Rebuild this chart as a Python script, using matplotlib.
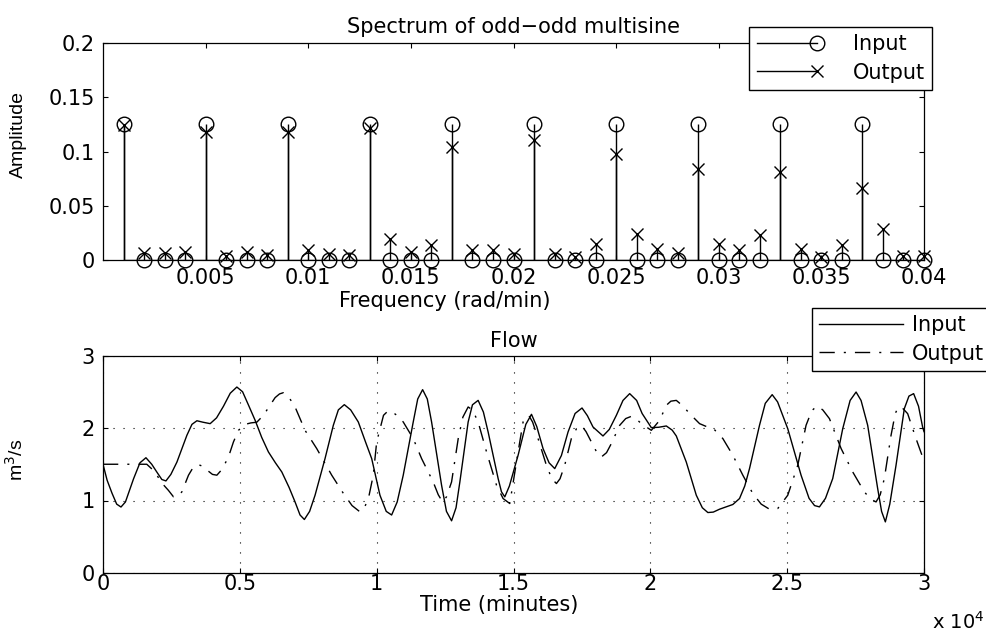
import numpy as np
import matplotlib
matplotlib.use('Agg')
import matplotlib.pyplot as plt
from matplotlib.lines import Line2D
from matplotlib.legend_handler import HandlerLine2D

# ---- spectrum data (rad/min) ----
freq = [0.001, 0.002, 0.003, 0.004, 0.005, 0.006, 0.007, 0.008, 0.009, 0.010,
        0.011, 0.012, 0.013, 0.014, 0.015, 0.016, 0.017, 0.018, 0.019, 0.020,
        0.021, 0.022, 0.023, 0.024, 0.025, 0.026, 0.027, 0.028, 0.029, 0.030,
        0.031, 0.032, 0.033, 0.034, 0.035, 0.036, 0.037, 0.038, 0.039, 0.040]
amp_in = [0.125, 0, 0, 0, 0.125, 0, 0, 0, 0.125, 0,
          0, 0, 0.125, 0, 0, 0, 0.125, 0, 0, 0,
          0.125, 0, 0, 0, 0.125, 0, 0, 0, 0.125, 0,
          0, 0, 0.125, 0, 0, 0, 0.125, 0, 0, 0]
amp_out = [0.124, 0.006, 0.006, 0.0077, 0.118, 0.004, 0.007, 0.005, 0.118, 0.009,
           0.0055, 0.0046, 0.1215, 0.019, 0.007, 0.014, 0.1046, 0.009, 0.009, 0.0055,
           0.111, 0.0055, 0.003, 0.015, 0.098, 0.024, 0.010, 0.006, 0.084, 0.015,
           0.009, 0.023, 0.081, 0.010, 0.003, 0.014, 0.066, 0.029, 0.004, 0.004]
freq_ticks = [0.005, 0.01, 0.015, 0.02, 0.025, 0.03, 0.035, 0.04]
freq_ticklabels = ['0.005', '0.01', '0.015', '0.02', '0.025', '0.03', '0.035', '0.04']
amp_ticks = [0, 0.05, 0.1, 0.15, 0.2]
amp_ticklabels = ['0', '0.05', '0.1', '0.15', '0.2']

# ---- flow data (minutes, m3/s) ----
t_in = [0, 150, 330, 500, 657, 820, 1117, 1350, 1569, 1780, 1971, 2150, 2299, 2480,
        2701, 3066, 3250, 3431, 3650, 3916, 4150, 4402, 4650, 4891, 5100, 5300,
        5559, 5800, 6044, 6300, 6533, 6800, 7018, 7200, 7358, 7550, 7749, 8113,
        8416, 8600, 8818, 9050, 9329, 9600, 9818, 10120, 10350, 10547, 10750,
        10971, 11336, 11500, 11679, 11850, 12007, 12372, 12550, 12737, 12900,
        13040, 13343, 13500, 13708, 13900, 14073, 14438, 14560, 14682, 14850,
        15168, 15450, 15657, 15850, 16080, 16300, 16507, 16750, 16993, 17250,
        17504, 17700, 17905, 18270, 18500, 18759, 19000, 19245, 19500, 19700,
        20036, 20300, 20584, 20800, 20949, 21314, 21679, 21900, 22102, 22300,
        22529, 23015, 23259, 23450, 23624, 23989, 24200, 24452, 24650, 25022,
        25508, 25800, 26000, 26180, 26400, 26665, 27030, 27300, 27518, 27700,
        27942, 28307, 28450, 28588, 28750, 28978, 29281, 29450, 29621, 29800,
        29949, 30000]
q_in = [1.50, 1.28, 1.10, 0.95, 0.91, 0.98, 1.30, 1.52, 1.59, 1.50, 1.39, 1.29, 1.27, 1.36,
        1.53, 1.90, 2.05, 2.10, 2.08, 2.06, 2.14, 2.30, 2.48, 2.565, 2.50, 2.33,
        2.106, 1.87, 1.67, 1.52, 1.394, 1.18, 0.98, 0.80, 0.738, 0.85, 1.073, 1.578,
        2.037, 2.25, 2.322, 2.25, 2.083, 1.80, 1.578, 1.073, 0.85, 0.80, 0.98,
        1.349, 2.083, 2.40, 2.529, 2.40, 2.083, 1.21, 0.85, 0.72, 0.90,
        1.256, 2.083, 2.32, 2.381, 2.22, 1.945, 1.303, 1.12, 1.05, 1.20,
        1.624, 2.05, 2.189, 2.02, 1.716, 1.52, 1.44, 1.62, 1.945, 2.20,
        2.276, 2.17, 2.014, 1.89, 1.98, 2.175, 2.38, 2.474, 2.38, 2.20,
        2.005, 2.01, 2.028, 1.97, 1.89, 1.53, 1.073, 0.90, 0.834, 0.84,
        0.88, 0.945, 1.027, 1.20, 1.44, 2.037, 2.34, 2.46, 2.36, 1.99,
        1.349, 1.03, 0.93, 0.912, 1.03, 1.303, 1.99, 2.38, 2.496, 2.38,
        2.037, 1.165, 0.85, 0.705, 0.95, 1.486, 2.267, 2.44, 2.474, 2.30,
        2.014, 1.95]
t_out = [0, 1600, 1800, 2000, 2200, 2390, 2577, 2750, 2883, 3124, 3300, 3489, 3650,
         3800, 4000, 4161, 4350, 4584, 4766, 4949, 5193, 5400, 5620, 5862, 6080,
         6289, 6450, 6591, 6800, 7018, 7383, 7810, 8358, 8780, 9100, 9391, 9550,
         9700, 9876, 10000, 10250, 10400, 10547, 10750, 10971, 11336, 11642,
         12065, 12250, 12409, 12550, 12737, 12980, 13150, 13343, 13500, 13708,
         14015, 14380, 14620, 14864, 15168, 15350, 15557, 15700, 15898, 16202,
         16400, 16568, 16700, 16871, 17114, 17300, 17481, 17650, 17846, 18050,
         18210, 18400, 18575, 18880, 19100, 19306, 19500, 19671, 20036, 20340,
         20584, 20750, 20949, 21200, 21436, 21800, 22050, 22285, 22650, 23015,
         23380, 23745, 24050, 24354, 24658, 25022, 25387, 25690, 25900, 26095,
         26300, 26545, 26972, 27395, 27822, 28050, 28248, 28400, 28551, 28796,
         28950, 29063, 29200, 29403, 29708, 29949, 30000]
q_out = [1.50, 1.50, 1.43, 1.33, 1.22, 1.14, 1.05, 1.06, 1.12, 1.349, 1.46, 1.495, 1.47,
         1.42, 1.36, 1.349, 1.43, 1.60, 1.807, 1.968, 2.05, 2.07, 2.08, 2.175, 2.30,
         2.419, 2.47, 2.487, 2.42, 2.29, 1.968, 1.716, 1.349, 1.10, 0.93, 0.843, 0.90,
         1.03, 1.349, 1.807, 2.175, 2.23, 2.23, 2.17, 2.083, 1.854, 1.578,
         1.256, 1.08, 0.98, 1.05, 1.256, 1.854, 2.15, 2.29, 2.25, 2.083,
         1.67, 1.21, 1.027, 0.958, 1.67, 2.083, 2.175, 2.08, 1.854, 1.486,
         1.30, 1.234, 1.30, 1.486, 1.854, 1.99, 2.037, 1.95, 1.807, 1.66,
         1.60, 1.66, 1.785, 2.037, 2.13, 2.161, 2.12, 2.06, 1.968, 2.106,
         2.313, 2.37, 2.381, 2.30, 2.198, 2.06, 2.02, 2.00, 1.854, 1.624,
         1.349, 1.096, 0.95, 0.88, 0.89, 1.073, 1.486, 2.037, 2.24, 2.303,
         2.25, 2.129, 1.716, 1.394, 1.118, 1.02, 0.98, 1.08, 1.303, 1.90,
         2.20, 2.29, 2.28, 2.198, 1.854, 1.60, 1.55]
time_ticks = [0, 5000, 10000, 15000, 20000, 25000, 30000]
time_ticklabels = ['0', '0.5', '1', '1.5', '2', '2.5', '3']
flow_ticks = [0, 1, 2, 3]


class EndMarker(HandlerLine2D):
    # legend line with the marker at its right end, like matlab stem legends
    def create_artists(self, *args, **kwargs):
        arts = super().create_artists(*args, **kwargs)
        arts[0].set_markevery([2])
        return arts


FS = 15
plt.rcParams['font.family'] = ['DejaVu Sans']
plt.rcParams['font.size'] = FS

fig = plt.figure(figsize=(9.86, 6.37), dpi=100)
W, H = 986.0, 637.0

# ---------------- spectrum ----------------
ax1 = fig.add_axes([103 / W, 1 - 260 / H, 821 / W, 217 / H])
m1, s1, b1 = ax1.stem(freq, amp_in, linefmt='k-', markerfmt='o', basefmt='k-')
m1.set_markerfacecolor('none')
m1.set_markeredgecolor('k')
m1.set_markersize(10.5)
m1.set_clip_on(False)
s1.set_linewidth(1.0)
b1.set_linewidth(1.0)
m2, s2, b2 = ax1.stem(freq, amp_out, linefmt='k-', markerfmt='x', basefmt='k-')
m2.set_color('k')
m2.set_markersize(8)
m2.set_markeredgewidth(1.0)
m2.set_clip_on(False)
s2.set_linewidth(1.0)
b2.set_visible(False)

ax1.set_xlim(0, 0.04)
ax1.set_ylim(0, 0.2)
ax1.set_xticks(freq_ticks)
ax1.set_xticklabels(freq_ticklabels)
ax1.set_yticks(amp_ticks)
ax1.set_yticklabels(amp_ticklabels)
ax1.set_title('Spectrum of odd\u2212odd multisine', fontsize=FS, pad=7)
ax1.set_xlabel('Frequency (rad/min)', fontsize=FS)
ax1.xaxis.set_label_coords(0.4166, -0.143)
ax1.set_ylabel('Amplitude', fontsize=14, family='Liberation Sans')
ax1.yaxis.set_label_coords(-0.0926, 0.58)

h_in = Line2D([0], [0], color='k', lw=1.0, marker='o', mfc='none', mec='k', ms=10.5)
h_out = Line2D([0], [0], color='k', lw=1.0, marker='x', mec='k', ms=8)
leg1 = ax1.legend([h_in, h_out], ['Input', 'Output'], loc='upper right',
                  bbox_to_anchor=(932 / W, 1 - 27 / H), bbox_transform=fig.transFigure,
                  borderaxespad=0, numpoints=1, fontsize=FS, borderpad=0.35,
                  labelspacing=0.4, handlelength=2.9, handletextpad=1.7,
                  fancybox=False, framealpha=1, edgecolor='k',
                  handler_map={Line2D: EndMarker()})
leg1.get_frame().set_linewidth(1.0)

# ---------------- flow ----------------
ax2 = fig.add_axes([103 / W, 1 - 573 / H, 821 / W, 217.5 / H])
dashdot = (0, (11, 6.5, 1.5, 6.5))
ax2.plot(t_in, q_in, color='k', lw=1.0, label='Input')
ax2.plot(t_out, q_out, color='k', lw=1.0, linestyle=dashdot, label='Output')
ax2.set_xlim(0, 30000)
ax2.set_ylim(0, 3)
ax2.set_xticks(time_ticks)
ax2.set_xticklabels(time_ticklabels)
ax2.set_yticks(flow_ticks)
ax2.grid(True, color='k', linestyle=(0, (1, 8)), linewidth=0.8)
ax2.set_title('Flow', fontsize=FS, pad=6)
ax2.set_xlabel('Time (minutes)', fontsize=FS)
ax2.xaxis.set_label_coords(0.482, -0.1)
ax2.set_ylabel('m$^3$/s', fontsize=14, family='Liberation Sans')
ax2.yaxis.set_label_coords(-0.0926, 0.52)
fig.text(932 / W, 1 - 622 / H, 'x 10$^4$', ha='left', va='center', fontsize=14)

leg2 = ax2.legend(loc='upper left', bbox_to_anchor=(812 / W, 1 - 308 / H),
                  bbox_transform=fig.transFigure, borderaxespad=0, fontsize=FS,
                  borderpad=0.35, labelspacing=0.4, handlelength=4.0,
                  handletextpad=0.45, fancybox=False, framealpha=1, edgecolor='k')
leg2.get_frame().set_linewidth(1.0)

for ax in (ax1, ax2):
    ax.tick_params(direction='in', top=True, right=True, length=3.6, width=0.8,
                   labelsize=FS, pad=6)
    for sp in ax.spines.values():
        sp.set_linewidth(0.9)
ax2.tick_params(axis='x', pad=1)

fig.savefig('out.png', dpi=100)
